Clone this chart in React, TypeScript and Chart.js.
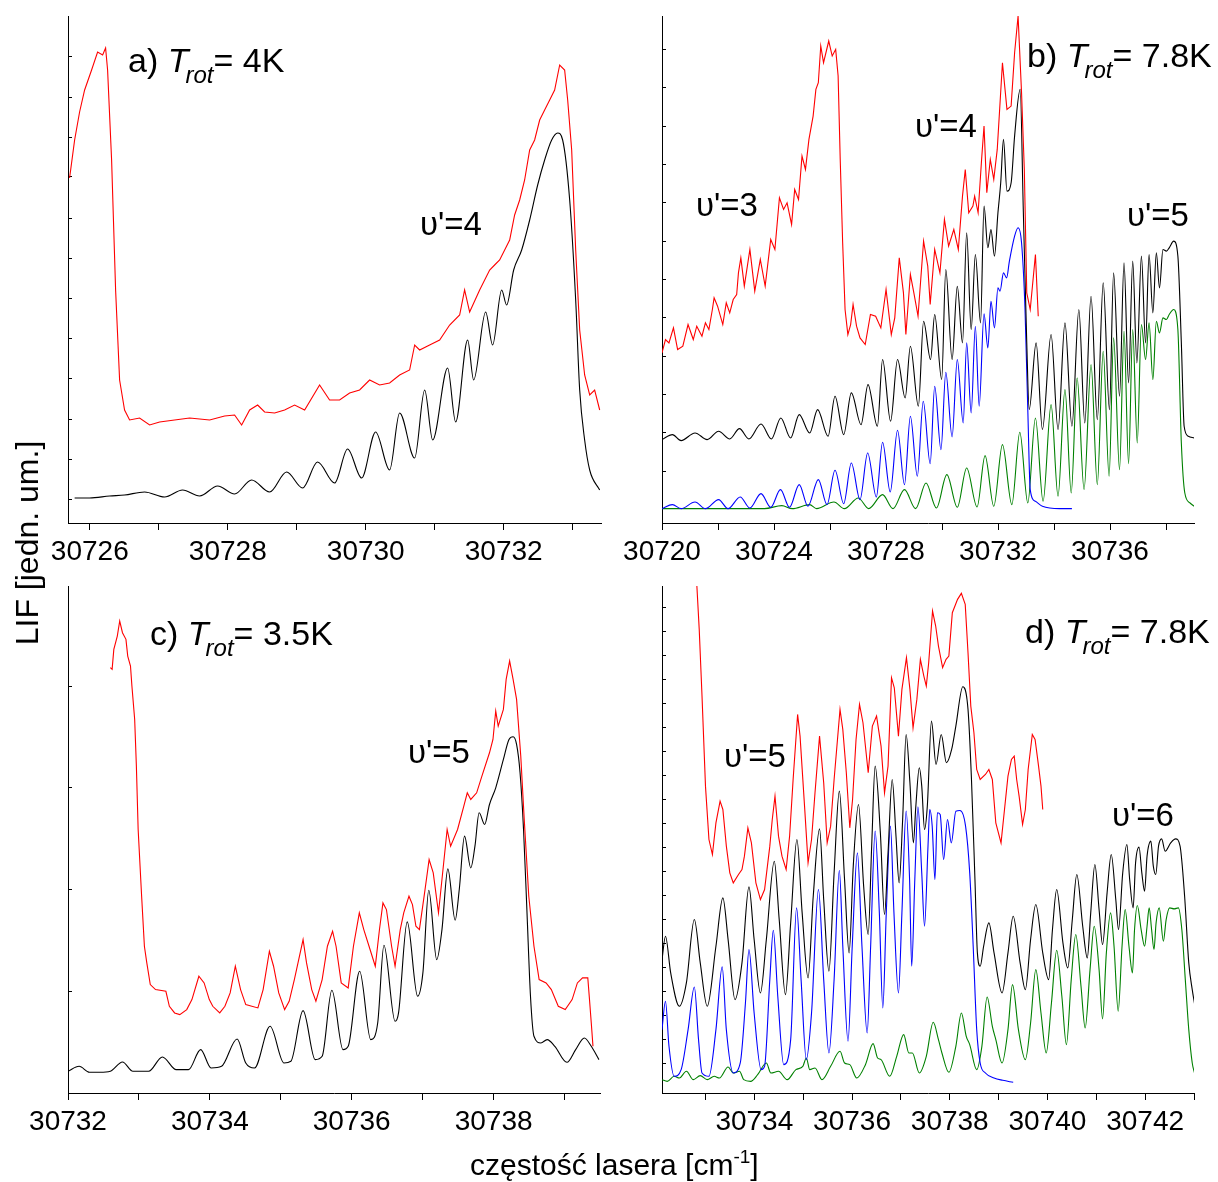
import React, { useEffect, useRef } from 'react';
import { Chart, registerables } from 'chart.js';
Chart.register(...registerables);

type P = [number, number];
const FONT = '"Liberation Sans", Arial, Helvetica, sans-serif';

// ---------- Panel a (base 30726 cm-1; x = base + offset) ----------
const aBase = 30726;
const aRed: P[] = [[-0.293,345],[-0.220,383],[-0.148,411],[-0.075,433],[0.026,453],[0.113,471],[0.186,468],[0.229,475],[0.258,453],[0.316,363],[0.374,233],[0.432,143],[0.504,113],[0.577,103],[0.722,105],[0.867,98],[1.012,101],[1.229,103],[1.447,105],[1.737,103],[1.954,107],[2.099,108],[2.201,98],[2.317,113],[2.433,118],[2.534,111],[2.679,110],[2.824,113],[2.969,118],[3.114,113],[3.331,138],[3.476,123],[3.621,123],[3.766,130],[3.911,133],[4.056,143],[4.201,138],[4.346,140],[4.491,148],[4.636,153],[4.709,178],[4.781,173],[4.926,178],[5.071,183],[5.216,198],[5.361,208],[5.433,233],[5.506,211],[5.651,233],[5.796,253],[5.868,258],[5.941,263],[6.086,283],[6.158,308],[6.231,323],[6.303,343],[6.376,373],[6.448,383],[6.521,403],[6.593,413],[6.666,423],[6.738,433],[6.811,458],[6.883,453],[6.927,423],[6.985,373],[7.043,273],[7.101,193],[7.173,148],[7.246,128],[7.318,133],[7.391,113]];
const aBlack: P[] = [[-0.220,25],[-0.003,25],[0.287,27],[0.504,28],[0.794,31],[1.084,26],[1.345,33],[1.592,27],[1.853,37],[2.099,29],[2.346,43],[2.607,31],[2.853,51],[3.085,35],[3.302,61],[3.549,40],[3.737,74],[3.940,45],[4.143,91],[4.346,53],[4.491,110],[4.709,65],[4.854,133],[4.970,83],[5.187,155],[5.303,101],[5.477,183],[5.564,143],[5.738,211],[5.839,178],[5.970,233],[6.042,218],[6.144,253],[6.260,273],[6.376,303],[6.492,338],[6.593,363],[6.695,383],[6.782,390],[6.854,383],[6.956,323],[7.043,223],[7.101,133],[7.173,83],[7.246,53],[7.391,33]];
const aXTicks = [30726, 30727, 30728, 30729, 30730, 30731, 30732, 30733];
const aXLabels = [30726, 30728, 30730, 30732];
const aYTicks = [24, 64, 104, 145, 185, 225, 265, 305, 346, 386, 426, 466];

// ---------- Panel b (base 30720) ----------
const bBase = 30720;
const bRed: P[] = [[0,51],[0.124,55],[0.248,54],[0.409,58.5],[0.558,52],[0.744,53],[0.93,59.5],[1.117,55],[1.241,59],[1.427,56],[1.551,60],[1.675,58],[1.799,64],[1.861,67.5],[1.985,65],[2.171,59.5],[2.295,66],[2.419,63],[2.543,67],[2.667,68.5],[2.730,75],[2.816,79.5],[2.940,71],[3.139,82],[3.313,69.5],[3.511,79],[3.685,71],[3.883,85],[4.032,82],[4.194,97.5],[4.342,94],[4.467,96],[4.628,89.5],[4.739,100],[4.876,97],[5.0,110],[5.124,106],[5.248,115],[5.397,122],[5.496,130],[5.583,132],[5.670,143],[5.769,138],[5.955,144.5],[6.079,140],[6.203,142],[6.290,134],[6.365,109],[6.452,84],[6.538,64],[6.638,56.5],[6.737,59.5],[6.824,65.5],[6.948,59],[7.072,55.5],[7.258,53.5],[7.444,62.5],[7.630,62],[7.816,58.5],[8.002,70],[8.189,56.5],[8.313,61.5],[8.474,79.5],[8.623,69],[8.710,56.5],[8.871,74.5],[8.995,69],[9.144,62],[9.342,84.5],[9.491,77],[9.578,65.5],[9.739,82],[9.926,75],[10.087,91],[10.236,83],[10.422,88],[10.583,82],[10.732,98],[10.831,106],[10.955,93],[11.104,95],[11.166,98],[11.290,93],[11.414,109],[11.501,119],[11.600,99],[11.725,109],[11.849,103],[11.973,112],[12.159,138],[12.320,124],[12.469,125],[12.593,141],[12.717,152],[12.841,129],[12.940,106],[13.027,69],[13.151,64],[13.337,80.5],[13.437,62]];
const bBlack: P[] = [[0,25],[0.372,26.5],[0.682,24.7],[1.179,27],[1.613,25],[2.022,27.5],[2.419,25.2],[2.767,28.3],[3.102,25.2],[3.536,29.7],[3.908,25.2],[4.243,31.5],[4.591,25.5],[4.901,32.5],[5.273,27],[5.558,34],[5.931,26],[6.179,38],[6.489,26.5],[6.762,39],[7.109,29.5],[7.357,41.5],[7.692,29],[7.878,49],[8.164,30.5],[8.412,49],[8.685,37.5],[8.871,53],[9.156,35],[9.342,60.5],[9.591,49],[9.739,62.5],[9.988,43],[10.136,76],[10.360,49],[10.546,71],[10.732,54],[10.881,87],[11.042,58],[11.191,80.5],[11.377,60],[11.501,95],[11.638,82.5],[11.749,88],[11.873,80],[11.998,93],[12.097,102],[12.196,115],[12.320,99.5],[12.469,102],[12.593,116],[12.792,130],[12.903,94],[13.027,54],[13.114,34],[13.362,54],[13.586,28],[13.896,56.5],[14.144,28],[14.392,60],[14.640,29],[14.888,64],[15.099,30],[15.323,68],[15.546,31],[15.757,72],[15.980,34],[16.129,75],[16.340,38],[16.501,78],[16.663,42],[16.811,78.5],[16.960,48],[17.122,80],[17.270,54],[17.395,80.5],[17.531,63],[17.655,81],[17.767,70.5],[17.891,82],[18.015,81.5],[18.114,82.5],[18.275,84.5],[18.424,80],[18.548,54],[18.648,29],[18.797,26],[19.007,25.5]];
const bBlue: P[] = [[0,4.3],[0.372,5.5],[0.682,4.3],[1.179,6.3],[1.551,4.3],[2.022,7],[2.357,4.3],[2.792,7.8],[3.139,4.5],[3.536,8.8],[3.883,4.7],[4.231,10],[4.553,4.7],[4.901,11.5],[5.211,5],[5.583,13],[5.893,5.5],[6.179,15.8],[6.489,5.8],[6.762,18],[7.072,7],[7.345,21],[7.655,7.8],[7.878,24.2],[8.151,9.3],[8.412,27.8],[8.660,11.5],[8.871,32],[9.119,14],[9.330,36.5],[9.578,17.8],[9.739,41],[9.963,22],[10.136,45.2],[10.360,25.8],[10.546,49],[10.757,30],[10.881,54],[11.042,33],[11.191,59],[11.328,35],[11.501,62.7],[11.638,52.5],[11.749,66.5],[11.873,58.5],[11.998,70.5],[12.072,69.5],[12.196,75],[12.308,73.5],[12.407,78.5],[12.593,86],[12.717,88.5],[12.841,84],[12.965,64],[13.064,34],[13.151,10],[13.337,6.5],[13.586,5],[14.206,4.3],[14.640,4.3]];
const bGreen: P[] = [[0,4.3],[3.660,4.3],[4.280,5.2],[4.653,4.3],[5.273,5.5],[5.521,4.3],[6.141,6.3],[6.514,4.3],[7.010,7.5],[7.382,4.3],[7.878,8.5],[8.251,4.3],[8.660,10],[9.057,4.3],[9.429,12],[9.801,4.5],[10.174,14.5],[10.546,4.7],[10.881,16.5],[11.253,4.8],[11.538,20.2],[11.849,5],[12.159,23.5],[12.494,5.5],[12.779,27.2],[13.064,6],[13.337,31.5],[13.610,6.5],[13.896,35.5],[14.144,8],[14.392,40],[14.615,9],[14.826,43.5],[15.074,10],[15.323,47.5],[15.546,11.5],[15.757,51.5],[15.968,14],[16.129,55.5],[16.340,16],[16.501,57.5],[16.663,17.8],[16.811,58],[16.973,24],[17.122,59.5],[17.270,49],[17.395,60],[17.531,43],[17.655,60.5],[17.767,57],[17.891,61.5],[18.015,61],[18.114,62.5],[18.275,64],[18.424,58],[18.548,24],[18.672,9],[18.859,6],[19.007,5]];
const bXTicks = [30720, 30722, 30724, 30726, 30728, 30730, 30732, 30734, 30736, 30738];
const bXLabels = [30720, 30724, 30728, 30732, 30736];
const bYTicks = [15.5, 27, 38.5, 50, 61.5, 73, 84.5, 96, 107.5, 119, 130.5, 142];

// ---------- Panel c (base 30732) ----------
const cBase = 30732;
const cRed: P[] = [[0.597,127.5],[0.622,127],[0.646,133],[0.695,137],[0.729,141.5],[0.768,138],[0.817,136],[0.842,131],[0.881,128],[0.901,122],[0.940,112],[0.964,98],[0.989,79],[1.038,59],[1.077,44],[1.111,39],[1.160,32.5],[1.234,31],[1.380,30.5],[1.429,26],[1.503,24],[1.576,23.5],[1.674,25],[1.747,28],[1.845,35],[1.919,33],[1.992,28],[2.041,26],[2.139,24],[2.212,26],[2.286,30],[2.359,38],[2.433,31],[2.506,26.5],[2.677,25.5],[2.751,31],[2.839,42.5],[2.898,38],[2.971,30],[3.054,25],[3.118,27.5],[3.191,34],[3.314,46],[3.363,39],[3.436,31],[3.495,27.5],[3.583,34],[3.657,44],[3.730,48.5],[3.779,44],[3.852,33],[3.950,31.5],[4.024,44],[4.107,54],[4.170,49],[4.244,44],[4.332,38],[4.391,49],[4.440,57],[4.489,55],[4.562,44],[4.611,38],[4.684,49],[4.733,54],[4.807,59],[4.856,56.5],[4.905,50],[4.954,49],[5.027,60],[5.091,70],[5.149,66],[5.223,54],[5.272,64],[5.345,79],[5.394,74],[5.492,79],[5.580,86],[5.629,90],[5.678,88],[5.761,90],[5.835,95],[5.942,102],[5.991,106],[6.030,114.5],[6.065,110],[6.138,115],[6.177,124],[6.226,129.5],[6.275,124],[6.324,118],[6.383,101],[6.432,82],[6.496,59],[6.569,44],[6.642,34],[6.740,33],[6.814,31],[6.912,26],[7.010,25],[7.107,28],[7.181,33],[7.254,34.5],[7.328,34.5],[7.352,28],[7.377,21],[7.401,14]];
const cBlack: P[] = [[0,6.5],[0.157,8],[0.303,6.2],[0.450,6.2],[0.597,6.5],[0.768,9.3],[0.915,6.5],[1.136,6.5],[1.331,10.8],[1.527,7],[1.699,7],[1.870,13],[2.017,7.5],[2.164,8],[2.384,16.2],[2.506,9],[2.629,7.5],[2.849,20],[3.045,9],[3.142,9.5],[3.314,24.7],[3.485,10],[3.583,11],[3.720,30.8],[3.877,13],[3.950,14],[4.112,36.5],[4.268,16],[4.366,21],[4.454,44.3],[4.611,21.5],[4.660,24],[4.782,51.3],[4.929,29],[5.003,36],[5.086,60.8],[5.198,40],[5.272,49],[5.355,67.2],[5.458,51.8],[5.516,61],[5.590,77],[5.678,67.5],[5.737,74],[5.796,84],[5.874,80.5],[5.942,86.5],[6.030,91.5],[6.138,100],[6.217,106],[6.275,106.8],[6.324,104.5],[6.373,96],[6.422,79],[6.471,54],[6.520,29],[6.569,17],[6.667,15],[6.755,16],[6.863,14],[7.034,9.2],[7.157,13],[7.279,16.5],[7.377,14],[7.485,10]];
const cXTicks = [30732, 30733, 30734, 30735, 30736, 30737, 30738, 30739];
const cXLabels = [30732, 30734, 30736, 30738];
const cYTicks = [30.5, 61, 91.5, 122];

// ---------- Panel d (base 30732) ----------
const dBase = 30732;
const dRed: P[] = [[0.822,152.5],[0.872,139],[0.929,119],[1.000,92],[1.071,76],[1.142,71.5],[1.214,81],[1.299,87.5],[1.356,85],[1.427,74],[1.498,66],[1.569,63],[1.676,65.5],[1.747,67],[1.797,71],[1.868,79.5],[1.940,75],[2.032,63],[2.125,58],[2.210,61],[2.317,74],[2.367,82],[2.423,89],[2.495,77],[2.566,71],[2.651,67],[2.722,77],[2.794,94],[2.886,113.5],[2.936,107],[3.028,86],[3.100,69],[3.171,76],[3.242,90],[3.335,107],[3.420,93],[3.491,75],[3.562,80],[3.633,94],[3.754,115],[3.811,109],[3.883,96],[3.954,79.5],[4.011,88],[4.082,106],[4.153,116.5],[4.224,111],[4.331,96],[4.416,110],[4.502,113],[4.594,104],[4.665,90],[4.737,98],[4.808,124.5],[4.865,121.5],[4.950,107],[5.021,121],[5.114,130.5],[5.185,121],[5.249,109.5],[5.327,118],[5.399,130],[5.470,125],[5.520,122],[5.569,129],[5.648,144.5],[5.712,140],[5.769,134],[5.854,127.5],[5.925,130],[5.982,131],[6.053,144],[6.160,148],[6.238,149.8],[6.317,146.5],[6.374,132],[6.431,116],[6.495,108],[6.552,97],[6.623,94],[6.730,95.5],[6.801,97],[6.872,94],[6.943,81],[7.050,75],[7.121,85],[7.192,95],[7.263,100],[7.320,101],[7.370,94],[7.420,89],[7.491,80.5],[7.548,85],[7.605,97],[7.690,107.5],[7.747,106],[7.818,98],[7.868,92],[7.904,85]];
const dBlack: P[] = [[0.110,40],[0.181,47],[0.288,36],[0.466,26],[0.609,33],[0.772,52],[0.893,39],[1.036,26],[1.214,44],[1.356,58.5],[1.463,46],[1.605,28],[1.747,39],[1.890,61.8],[1.996,46],[2.125,30],[2.246,46],[2.409,69.5],[2.509,52],[2.637,29.5],[2.744,51],[2.872,76],[2.979,54],[3.100,34.5],[3.206,59],[3.335,79.2],[3.420,58],[3.527,36.5],[3.633,66],[3.740,90.5],[3.847,64],[3.940,42],[4.025,68],[4.132,86.5],[4.238,62],[4.331,47.5],[4.402,74],[4.473,98],[4.580,78],[4.665,53.5],[4.737,72],[4.822,94],[4.900,77],[4.964,63],[5.036,82],[5.107,107.5],[5.185,93],[5.256,75],[5.306,86],[5.377,97.5],[5.427,92],[5.484,79],[5.541,86],[5.626,111.5],[5.719,98.5],[5.826,107.5],[5.932,99],[6.039,103],[6.125,110],[6.267,121.8],[6.374,115],[6.445,94],[6.516,64],[6.566,42],[6.623,38],[6.694,44],[6.801,51],[6.907,42],[7.071,30],[7.192,42],[7.299,53],[7.441,39],[7.548,31],[7.655,46],[7.762,56.5],[7.904,42],[8.025,34],[8.103,49],[8.189,61],[8.317,45],[8.416,37.5],[8.509,52],[8.601,65.5],[8.722,50],[8.815,40.5],[8.886,54],[8.971,68.5],[9.057,55],[9.128,44.5],[9.221,60],[9.306,71.5],[9.399,58],[9.455,49],[9.541,66],[9.626,74.5],[9.683,64],[9.754,55.5],[9.804,69],[9.875,73.7],[9.932,66],[9.989,60.5],[10.039,71],[10.117,75.5],[10.167,68],[10.217,65.5],[10.274,74],[10.338,76.2],[10.409,72.5],[10.523,75],[10.623,76.2],[10.715,74],[10.808,59],[10.893,39],[10.964,31],[11.014,26.5]];
const dBlue: P[] = [[0.110,19],[0.181,27.5],[0.253,14],[0.359,5],[0.502,7],[0.644,19],[0.772,31.8],[0.858,16],[0.929,6],[1.071,5],[1.214,19],[1.342,37.8],[1.427,19],[1.569,6],[1.712,9],[1.818,27],[1.890,43],[1.996,24],[2.139,7],[2.210,8],[2.317,34],[2.388,48.8],[2.480,29],[2.601,8.5],[2.744,16],[2.865,55.5],[2.957,34],[3.064,10],[3.171,24],[3.313,61],[3.420,34],[3.527,12],[3.633,34],[3.740,66.8],[3.811,44],[3.918,15.5],[4.004,44],[4.110,72],[4.203,44],[4.310,18],[4.381,44],[4.473,78.5],[4.559,54],[4.630,25.5],[4.701,54],[4.786,80],[4.858,54],[4.950,30],[5.021,54],[5.107,84.5],[5.178,64],[5.221,38],[5.285,64],[5.349,85.8],[5.427,66],[5.484,50],[5.555,74],[5.591,85],[5.641,80],[5.697,64],[5.747,84],[5.804,83.5],[5.875,70],[5.954,82],[6.032,75],[6.125,84.5],[6.210,84.7],[6.324,80],[6.409,66],[6.480,44],[6.552,19],[6.623,9],[6.730,6],[6.907,4.5],[7.085,3.8],[7.299,3.2]];
const dGreen: P[] = [[0.110,4],[0.217,3.5],[0.359,5],[0.466,4.5],[0.609,6.5],[0.751,4],[0.893,5.2],[1.036,4],[1.178,5],[1.285,4.5],[1.463,7.8],[1.569,6],[1.697,6.5],[1.783,4],[1.925,3.5],[2.068,5.5],[2.246,9],[2.338,6],[2.495,6.5],[2.673,4],[2.851,7],[2.993,8],[3.064,10.5],[3.135,7],[3.242,7.5],[3.384,4],[3.562,8],[3.754,12.5],[3.847,9],[3.954,8.5],[4.096,4.5],[4.274,8.5],[4.431,14.8],[4.523,10.5],[4.594,10],[4.772,5],[4.915,11],[5.057,17.5],[5.164,12],[5.235,12],[5.377,6],[5.520,11],[5.662,21.2],[5.769,16],[5.840,12],[5.982,6.2],[6.125,14],[6.238,24],[6.338,17],[6.409,14.5],[6.552,7],[6.658,14],[6.765,28.8],[6.872,20],[6.943,16],[7.071,9],[7.192,19],[7.285,32.5],[7.406,19],[7.548,10],[7.655,21],[7.762,37],[7.868,24],[7.975,12],[8.082,27],[8.189,42.8],[8.295,29],[8.388,14.5],[8.487,34],[8.580,47.5],[8.687,32],[8.772,19.5],[8.872,37],[8.957,50],[9.057,37],[9.128,22.2],[9.206,42],[9.292,54],[9.363,44],[9.448,24.5],[9.527,44],[9.591,55],[9.669,44],[9.740,36],[9.783,49],[9.840,56.2],[9.918,49],[9.989,44],[10.039,50],[10.082,55.5],[10.132,49],[10.181,43],[10.224,51],[10.288,55.5],[10.373,45.5],[10.430,52],[10.502,55.5],[10.594,55.2],[10.680,55.5],[10.751,49],[10.822,34],[10.893,19],[10.964,9],[11.014,5.8]];
const dXTicks = [30733, 30734, 30735, 30736, 30737, 30738, 30739, 30740, 30741, 30742, 30743];
const dXLabels = [30734, 30736, 30738, 30740, 30742];
const dYTicks = [8.8, 16, 23.2, 30.4, 37.6, 44.8, 52, 59.2, 66.4, 73.6, 80.8, 88, 95.2, 102.4, 109.6, 116.8, 124, 131.2, 138.4, 145.6];

const RED = '#ff0000', BLACK = '#000000', BLUE = '#0000ff', GREEN = '#008000';

interface Series { data: P[]; base: number; color: string; smooth: boolean; }
interface Spec {
  left: number; top: number; width: number; height: number;
  pad: { left: number; right: number; top: number; bottom: number };
  axisH: number; xMin: number; xMax: number; xTicks: number[]; xLabels: number[];
  yMax: number; yTicks: number[]; series: Series[];
}

function Panel({ spec }: { spec: Spec }) {
  const ref = useRef<HTMLCanvasElement>(null);
  useEffect(() => {
    const cv = ref.current!;
    const chart = new Chart(cv, {
      type: 'line',
      data: {
        datasets: spec.series.map((s) => ({
          data: s.data.map(([dx, y]) => ({ x: s.base + dx, y })),
          borderColor: s.color,
          borderWidth: 1.1,
          pointRadius: 0,
          fill: false,
          tension: 0,
          cubicInterpolationMode: s.smooth ? 'monotone' : 'default',
        })) as any,
      },
      options: {
        animation: false,
        responsive: false,
        events: [],
        layout: { padding: spec.pad },
        plugins: { legend: { display: false }, tooltip: { enabled: false } },
        scales: {
          x: {
            type: 'linear', min: spec.xMin, max: spec.xMax, bounds: 'data',
            afterBuildTicks: (sc: any) => { sc.ticks = spec.xTicks.map((v) => ({ value: v })); },
            afterFit: (sc: any) => { sc.height = spec.axisH; sc.paddingLeft = 0; sc.paddingRight = 0; },
            ticks: {
              autoSkip: false, maxRotation: 0, minRotation: 0, color: '#000', padding: 5,
              font: { family: FONT, size: 28 },
              callback: (v: any) => (spec.xLabels.includes(Number(v)) ? String(v) : ''),
            },
            grid: { drawOnChartArea: false, drawTicks: true, tickLength: 7, color: '#000', lineWidth: 1 },
            border: { display: true, color: '#000', width: 1 },
          },
          y: {
            type: 'linear', min: 0, max: spec.yMax, bounds: 'data',
            afterBuildTicks: (sc: any) => { sc.ticks = spec.yTicks.map((v) => ({ value: v })); },
            afterFit: (sc: any) => { sc.width = 0; },
            ticks: { display: false },
            grid: { drawOnChartArea: false, drawTicks: true, tickLength: -4, color: '#000', lineWidth: 1 },
            border: { display: true, color: '#000', width: 1 },
          },
        },
      } as any,
    });
    return () => chart.destroy();
  }, [spec]);
  return (
    <canvas ref={ref} width={spec.width} height={spec.height}
      style={{ position: 'absolute', left: spec.left, top: spec.top, width: spec.width, height: spec.height }} />
  );
}

const specs: Spec[] = [
  { left: 0, top: 0, width: 609, height: 580, pad: { left: 68, right: 8, top: 16, bottom: 0 }, axisH: 57,
    xMin: 30725.684, xMax: 30733.41, xTicks: aXTicks, xLabels: aXLabels, yMax: 507, yTicks: aYTicks,
    series: [ { data: aRed, base: aBase, color: RED, smooth: false }, { data: aBlack, base: aBase, color: BLACK, smooth: true } ] },
  { left: 609, top: 0, width: 609, height: 580, pad: { left: 53, right: 24, top: 16, bottom: 0 }, axisH: 57,
    xMin: 30720, xMax: 30739, xTicks: bXTicks, xLabels: bXLabels, yMax: 152, yTicks: bYTicks,
    series: [ { data: bRed, base: bBase, color: RED, smooth: false }, { data: bBlack, base: bBase, color: BLACK, smooth: true },
      { data: bBlue, base: bBase, color: BLUE, smooth: true }, { data: bGreen, base: bBase, color: GREEN, smooth: true } ] },
  { left: 0, top: 580, width: 609, height: 570, pad: { left: 68, right: 9, top: 6, bottom: 0 }, axisH: 57,
    xMin: 30732, xMax: 30739.5, xTicks: cXTicks, xLabels: cXLabels, yMax: 152, yTicks: cYTicks,
    series: [ { data: cRed, base: cBase, color: RED, smooth: false }, { data: cBlack, base: cBase, color: BLACK, smooth: true } ] },
  { left: 609, top: 580, width: 609, height: 570, pad: { left: 53, right: 24, top: 6, bottom: 0 }, axisH: 57,
    xMin: 30732.11, xMax: 30743, xTicks: dXTicks, xLabels: dXLabels, yMax: 152, yTicks: dYTicks,
    series: [ { data: dRed, base: dBase, color: RED, smooth: false }, { data: dBlack, base: dBase, color: BLACK, smooth: true },
      { data: dBlue, base: dBase, color: BLUE, smooth: true }, { data: dGreen, base: dBase, color: GREEN, smooth: true } ] },
];

function Txt({ x, base, size, children }: { x: number; base: number; size: number; children: React.ReactNode }) {
  return (
    <div style={{ position: 'absolute', left: x, top: base - 0.8465 * size, fontSize: size, lineHeight: `${size}px`,
      whiteSpace: 'nowrap', color: '#000' }}>{children}</div>
  );
}

function Title({ x, base, pre, post }: { x: number; base: number; pre: string; post: string }) {
  return (
    <Txt x={x} base={base} size={34}>
      {pre} <i>T</i>
      <span style={{ fontStyle: 'italic', fontSize: 24, lineHeight: '24px', position: 'relative', top: 11, marginLeft: -3 }}>rot</span>
      {post}
    </Txt>
  );
}

export default function App() {
  return (
    <div style={{ position: 'absolute', left: 0, top: 0, width: 1218, height: 1182, background: '#fff', fontFamily: FONT, overflow: 'hidden' }}>
      {specs.map((s, i) => <Panel key={i} spec={s} />)}
      <Title x={128} base={72} pre="a)" post="= 4K" />
      <Title x={1027} base={67} pre="b)" post="= 7.8K" />
      <Title x={150} base={645} pre="c)" post="= 3.5K" />
      <Title x={1025} base={643} pre="d)" post="= 7.8K" />
      <Txt x={420} base={235} size={33}>υ'=4</Txt>
      <Txt x={696} base={216} size={33}>υ'=3</Txt>
      <Txt x={915} base={137} size={33}>υ'=4</Txt>
      <Txt x={1127} base={226} size={33}>υ'=5</Txt>
      <Txt x={408} base={763} size={33}>υ'=5</Txt>
      <Txt x={724} base={767} size={33}>υ'=5</Txt>
      <Txt x={1112} base={826} size={33}>υ'=6</Txt>
      <div style={{ position: 'absolute', left: 27 - 160, top: 543 - 16, width: 320, height: 32, lineHeight: '32px', fontSize: 32,
        textAlign: 'center', transform: 'rotate(-90deg)', transformOrigin: '50% 50%', whiteSpace: 'nowrap' }}>LIF [jedn. um.]</div>
      <Txt x={470} base={1175} size={30}>
        częstość lasera [cm<span style={{ fontSize: 19, lineHeight: '19px', position: 'relative', top: -12 }}>-1</span>]
      </Txt>
    </div>
  );
}
